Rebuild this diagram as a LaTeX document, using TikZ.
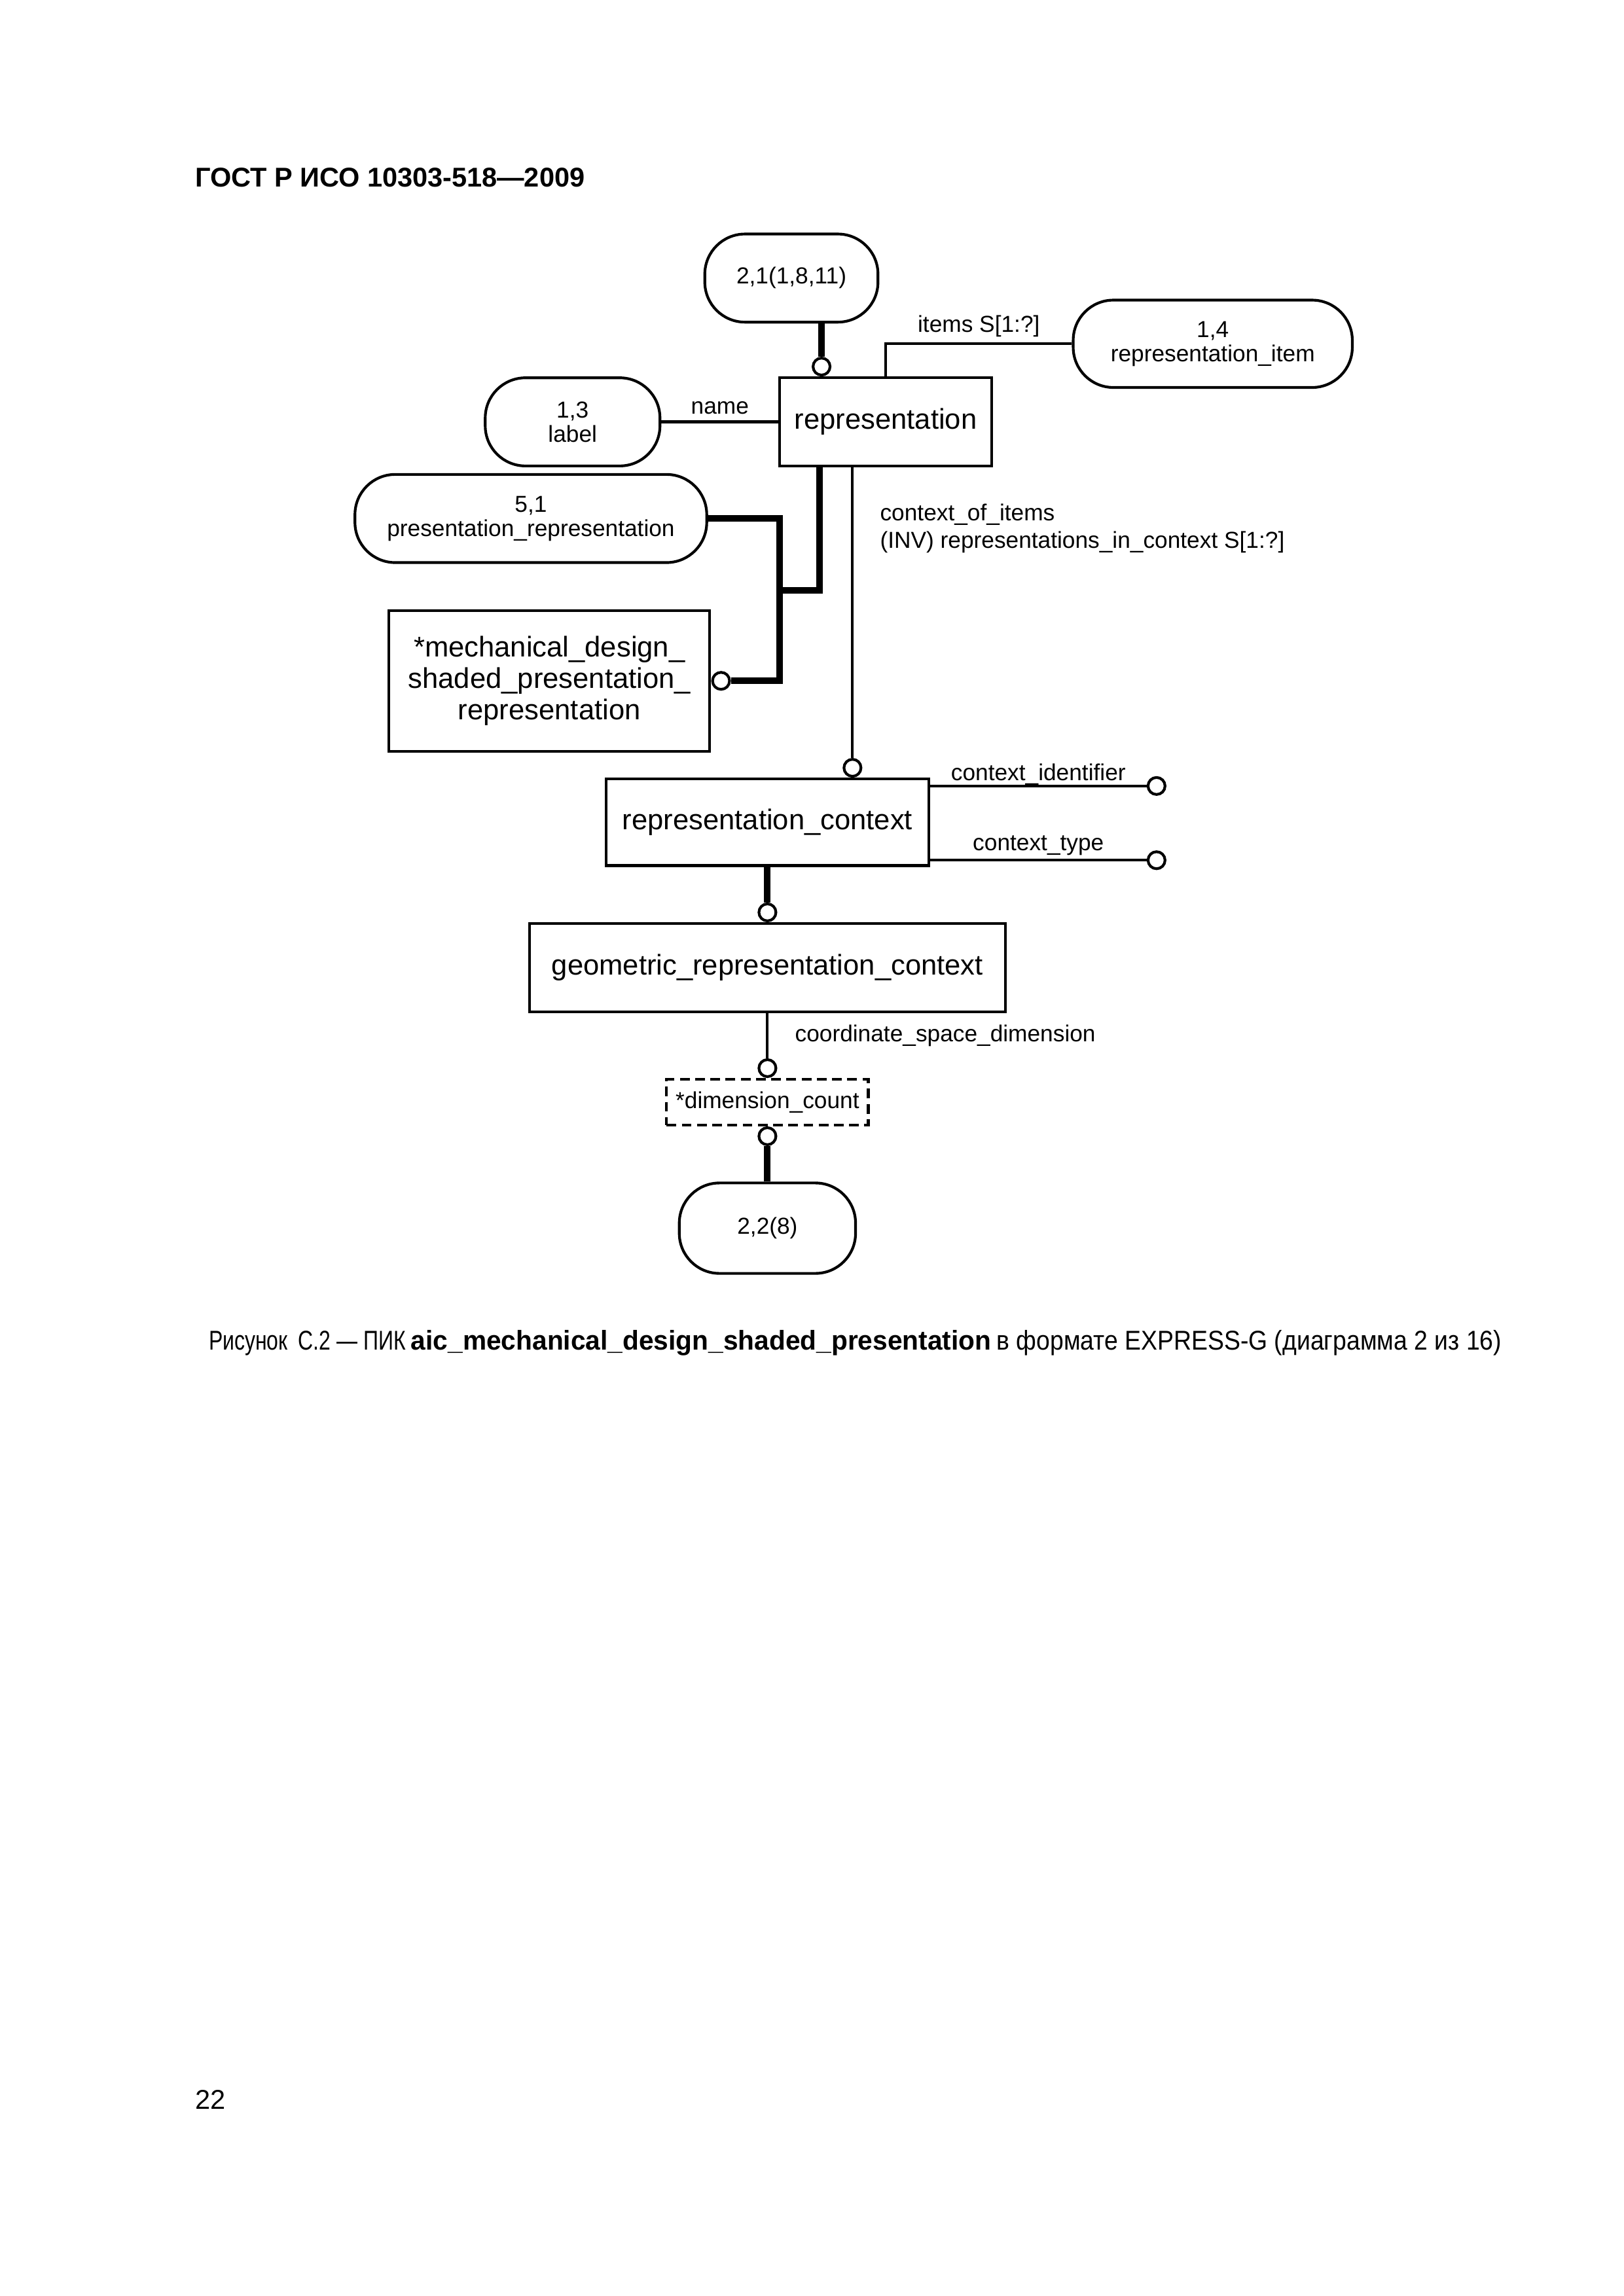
\documentclass[tikz,border=0pt]{standalone}
\usepackage{fontspec}
\usepackage{graphicx}
\setmainfont{Liberation Sans}
\usetikzlibrary{positioning}
\newcommand{\smallfs}{\fontsize{8.5}{9}\selectfont}
\newcommand{\bigfs}{\fontsize{10.5}{11.5}\selectfont}
\tikzset{
  entity/.style={rectangle,draw,line width=1pt,inner sep=0pt,font=\bigfs,align=center},
  page ref/.style={rectangle,rounded corners=5.2mm,draw,line width=1pt,inner sep=0pt,font=\smallfs,align=center,minimum height=11.4mm},
  ring/.style={circle,draw,fill=white,line width=1pt,minimum size=2.2mm,inner sep=0pt},
  thick line/.style={line width=2.4pt},
  attr label/.style={font=\smallfs,inner sep=0pt}
}

\begin{document}
\begin{tikzpicture}[on grid, line width=1pt]
            \useasboundingbox (0,0) rectangle (21,-29.7);
            % page header and footer
            \node[anchor=base west, inner sep=0pt, font=\bfseries\fontsize{10}{12}\selectfont] (title) at (2.506,-2.413) {ГОСТ Р ИСО 10303-518—2009};
            \node[anchor=base west, inner sep=0pt, font=\fontsize{10}{12}\selectfont] (caption) at (2.684,-17.46) {\scalebox{0.77}[1]{Рисунок\hspace{0.5em}С.2 — ПИК}\hspace{0.2em}\scalebox{0.98}[1]{\textbf{aic\_mechanical\_design\_shaded\_presentation}}\hspace{0.2em}\scalebox{0.9}[1]{в формате EXPRESS-G (диаграмма 2 из 16)}};
            \node[anchor=base west, inner sep=0pt, font=\fontsize{10}{12}\selectfont] (pagenum) at (2.506,-27.28) {22};

            % entities and page references
            \node[entity, minimum width=27.4mm, minimum height=11.4mm] (rep) at (11.456,-5.457) {representation};
            \node[page ref, minimum width=22.4mm] (o21) [above left = 18.6mm and 12.2mm of rep] {2,1(1,8,11)};
            \node[page ref, minimum width=36.1mm, minimum height=11.3mm] (o14) [above right = 10.1mm and 42.3mm of rep] {1,4\\representation\_item};
            \node[page ref, minimum width=22.6mm] (o13) [left = 40.5mm of rep] {1,3\\label};
            \node[page ref, minimum width=45.5mm] (o51) [below left = 12.5mm and 45.9mm of rep] {5,1\\presentation\_representation};
            \node[entity, minimum width=41.5mm, minimum height=18.2mm] (mech) [below left = 33.5mm and 43.5mm of rep] {*mechanical\_design\_\\shaded\_presentation\_\\representation};
            \node[entity, minimum width=41.7mm, minimum height=11.2mm] (rctx) [below left = 51.8mm and 15.3mm of rep] {representation\_context};
            \node[entity, minimum width=61.6mm, minimum height=11.4mm] (geo) [below = 18.8mm of rctx] {geometric\_representation\_context};
            \node[entity, dash pattern=on 3.6pt off 2pt, minimum width=26.1mm, minimum height=5.9mm, font=\smallfs] (dim) [below = 17.4mm of geo] {*dimension\_count};
            \node[page ref, minimum width=22.8mm, minimum height=11.7mm] (o228) [below = 16.3mm of dim] {2,2(8)};

            % relations of representation
            \node[ring, anchor=south] (c21) at ([xshift=-8.3mm]rep.north) {};
            \draw[thick line] (c21) -- (c21 |- o21.south);
            \draw (o13) -- node[attr label, anchor=base, yshift=1.0mm] {name} (rep);
            \draw (rep.north) |- node[attr label, pos=0.75, anchor=base, yshift=1.5mm] {items S[1:?]} (o14.west);

            % subtypes
            \coordinate (j1) at ([xshift=-8.6mm]rep.south);
            \coordinate[below left = 21.8mm and 13.7mm of rep] (jx);
            \node[ring, anchor=west] (cm) at (mech.east) {};
            \draw[thick line] (o51.east) -| (jx) |- (cm);
            \draw[thick line] (j1) |- (jx);

            % context
            \node[ring, anchor=south] (cr) at ([xshift=11mm]rctx.north) {};
            \draw (cr |- rep.south) -- node[attr label, pos=0.21, anchor=west, xshift=3.4mm, align=left, font=\fontsize{8.5}{10}\selectfont] {context\_of\_items\\(INV) representations\_in\_context S[1:?]} (cr);
            \node[ring] (ci) [above right = 3.8mm and 28.4mm of rctx.east] {};
            \node[ring] (ct) [below right = 4.0mm and 28.4mm of rctx.east] {};
            \draw (rctx.east |- ci) -- node[attr label, anchor=base, yshift=0.75mm] {context\_identifier} (ci);
            \draw (rctx.east |- ct) -- node[attr label, anchor=base, yshift=1.25mm] {context\_type} (ct);

            % geometric context
            \node[ring, anchor=south] (cg) at (geo.north) {};
            \draw[thick line] (rctx.south) -- (cg);
            \node[ring, anchor=south] (cd1) at (dim.north) {};
            \draw (geo.south) -- node[attr label, anchor=west, xshift=3.4mm] {coordinate\_space\_dimension} (cd1);
            \node[ring, anchor=north] (cd2) at (dim.south) {};
            \draw[thick line] (cd2) -- (o228.north);
\end{tikzpicture}
\end{document}
